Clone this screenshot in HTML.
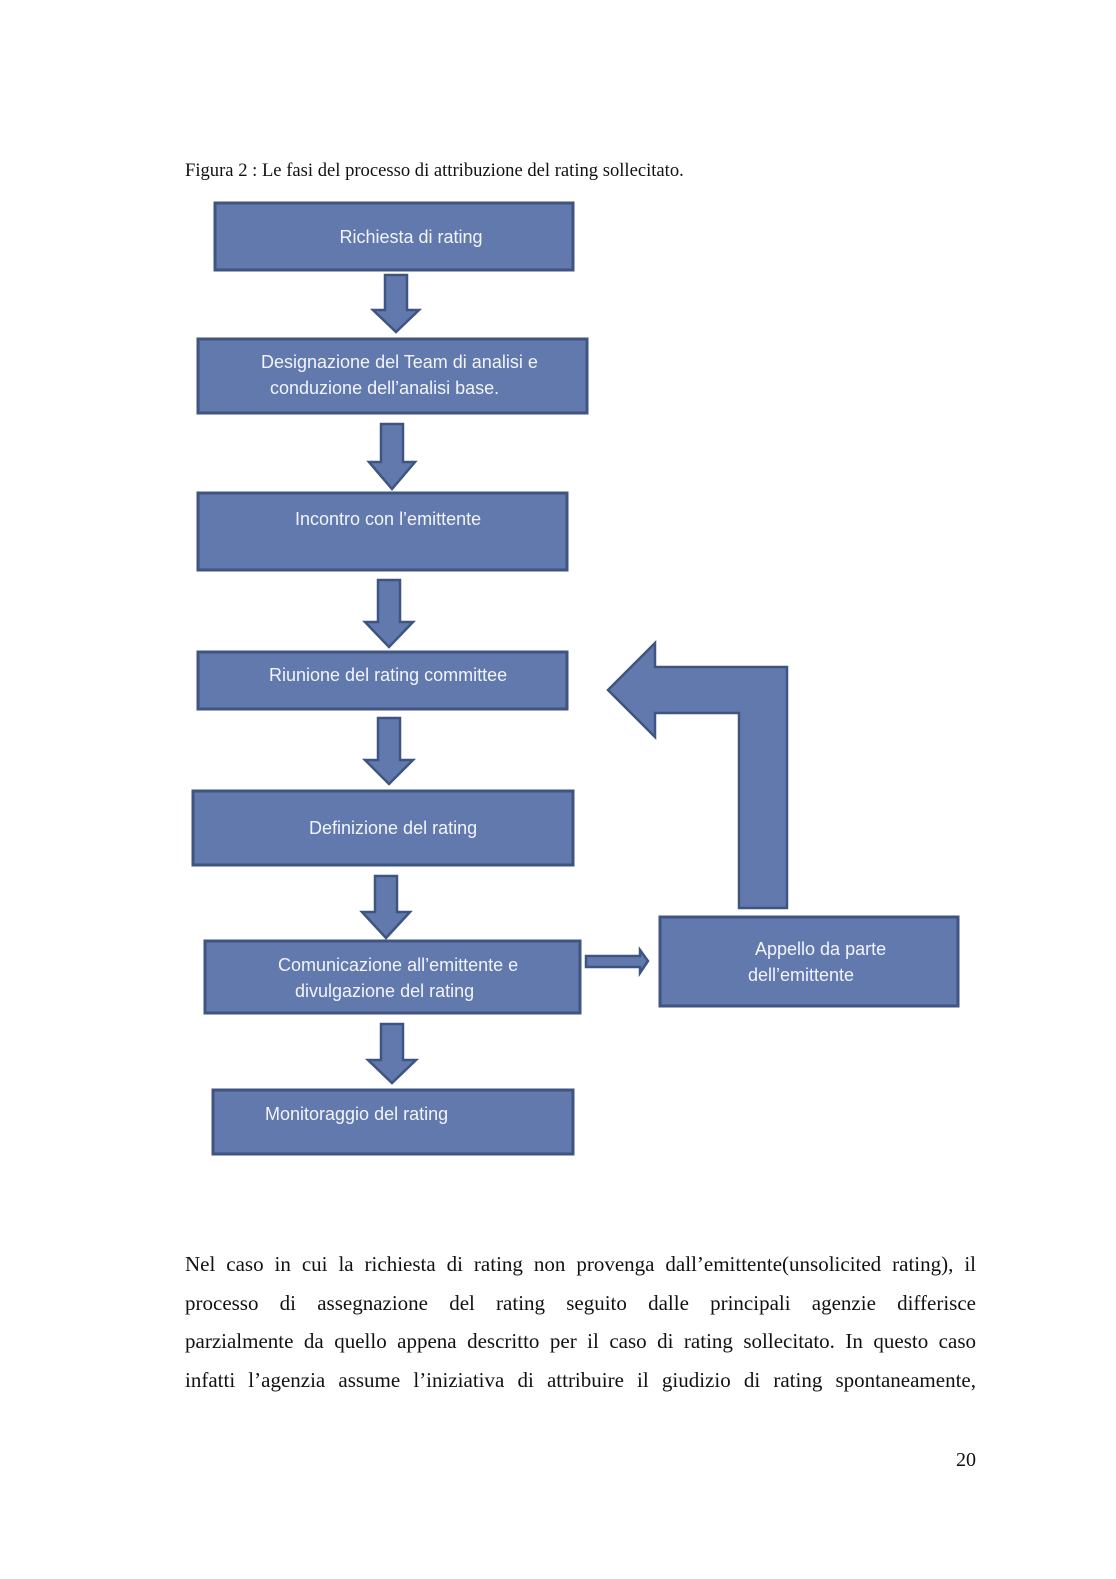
<!DOCTYPE html>
<html><head><meta charset="utf-8"><style>
body{margin:0;background:#fff;}
.page{position:relative;width:1116px;height:1579px;overflow:hidden;background:#fff;}
.cap{position:absolute;left:185px;top:160px;font:18.6px "Liberation Serif",serif;color:#111;white-space:nowrap;}
.par{position:absolute;left:185px;top:1245px;width:791px;font:21px/38.6px "Liberation Serif",serif;color:#111;}
.par div{text-align:justify;text-align-last:justify;height:38.6px;}
.pn{position:absolute;left:956px;top:1449px;font:20px "Liberation Serif",serif;color:#111;}
svg{position:absolute;left:0;top:0;}
svg text{font-family:"Liberation Sans",sans-serif;font-size:18px;fill:#f2f4fa;}
</style></head><body><div class="page">
<div class="cap">Figura 2 : Le fasi del processo di attribuzione del rating sollecitato.</div>
<svg width="1116" height="1579" viewBox="0 0 1116 1579">
<g fill="#6179ad" stroke="#3f5480" stroke-width="3">
<rect x="215" y="203" width="358" height="67"/>
<rect x="198" y="339" width="389" height="74"/>
<rect x="198" y="493" width="369" height="77"/>
<rect x="198" y="652" width="369" height="57"/>
<rect x="193" y="791" width="380" height="74"/>
<rect x="205" y="941" width="375" height="72"/>
<rect x="213" y="1090" width="360" height="64"/>
<rect x="660" y="917" width="298" height="89"/>
<g stroke-width="2.5">
<polygon points="385,275 407,275 407,310 419,310 396,332 373,310 385,310"/>
<polygon points="381,424 403,424 403,462 415,462 392,489 369,462 381,462"/>
<polygon points="378,580 400,580 400,622 413,622 389,647 365,622 378,622"/>
<polygon points="378,718 400,718 400,760 413,760 389,784 365,760 378,760"/>
<polygon points="375,876 397,876 397,912 410,912 386,938 362,912 375,912"/>
<polygon points="381,1024 403,1024 403,1060 416,1060 392,1083 368,1060 381,1060"/>
<polygon points="586,956 640,956 640,950 648,961 640,973 640,967 586,967"/>
<polygon points="787,908 739,908 739,713 655,713 655,737 608,690 655,643 655,667 787,667"/>
</g>
</g>
<text x="411" y="243" text-anchor="middle">Richiesta di rating</text>
<text x="261" y="368">Designazione del Team di analisi  e</text>
<text x="270" y="394">conduzione dell’analisi base.</text>
<text x="295" y="525">Incontro con l’emittente</text>
<text x="269" y="681">Riunione del rating committee</text>
<text x="309" y="834">Definizione del rating</text>
<text x="278" y="971">Comunicazione all’emittente e</text>
<text x="295" y="997">divulgazione del rating</text>
<text x="265" y="1120">Monitoraggio del rating</text>
<text x="755" y="955">Appello da parte</text>
<text x="748" y="981">dell’emittente</text>
</svg>
<div class="par">
<div>Nel caso in cui la richiesta di rating non provenga dall’emittente(unsolicited rating), il</div>
<div>processo di assegnazione del rating seguito dalle principali agenzie differisce</div>
<div>parzialmente da quello appena descritto per il caso di rating sollecitato. In questo caso</div>
<div>infatti l’agenzia assume l’iniziativa di attribuire il giudizio di rating spontaneamente,</div>
</div>
<div class="pn">20</div>
</div></body></html>
